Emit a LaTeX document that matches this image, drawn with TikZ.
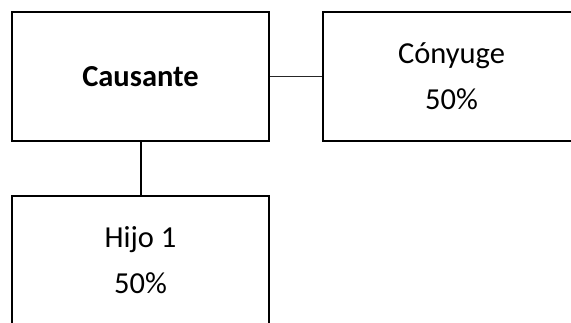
\documentclass[tikz,border=0pt]{standalone}
\usepackage{fontspec}
\setmainfont{Carlito}
\begin{document}
\begin{tikzpicture}[x=1pt,y=-1pt,
  box/.style={draw=black,line width=2pt,rectangle,minimum width=257pt,minimum height=129pt,inner sep=0pt,font=\fontsize{30.5}{46}\selectfont,align=center},
  thin/.style={line width=1pt,draw=black!85},
  thick/.style={line width=2pt,draw=black}]
\useasboundingbox (0,0) rectangle (571,322);
\clip (0,0) rectangle (571,322);
\node[box] (causante) at (140.5,76.5) {\textbf{Causante}};
\node[box] (conyuge) at (451.5,76.5) {Cónyuge\\50\%};
\node[box] (hijo) at (140.5,260) {Hijo 1\\50\%};
\draw[thin] (causante.east) -- (conyuge.west);
\draw[thick] (causante.south) -- (hijo.north);
\end{tikzpicture}
\end{document}
